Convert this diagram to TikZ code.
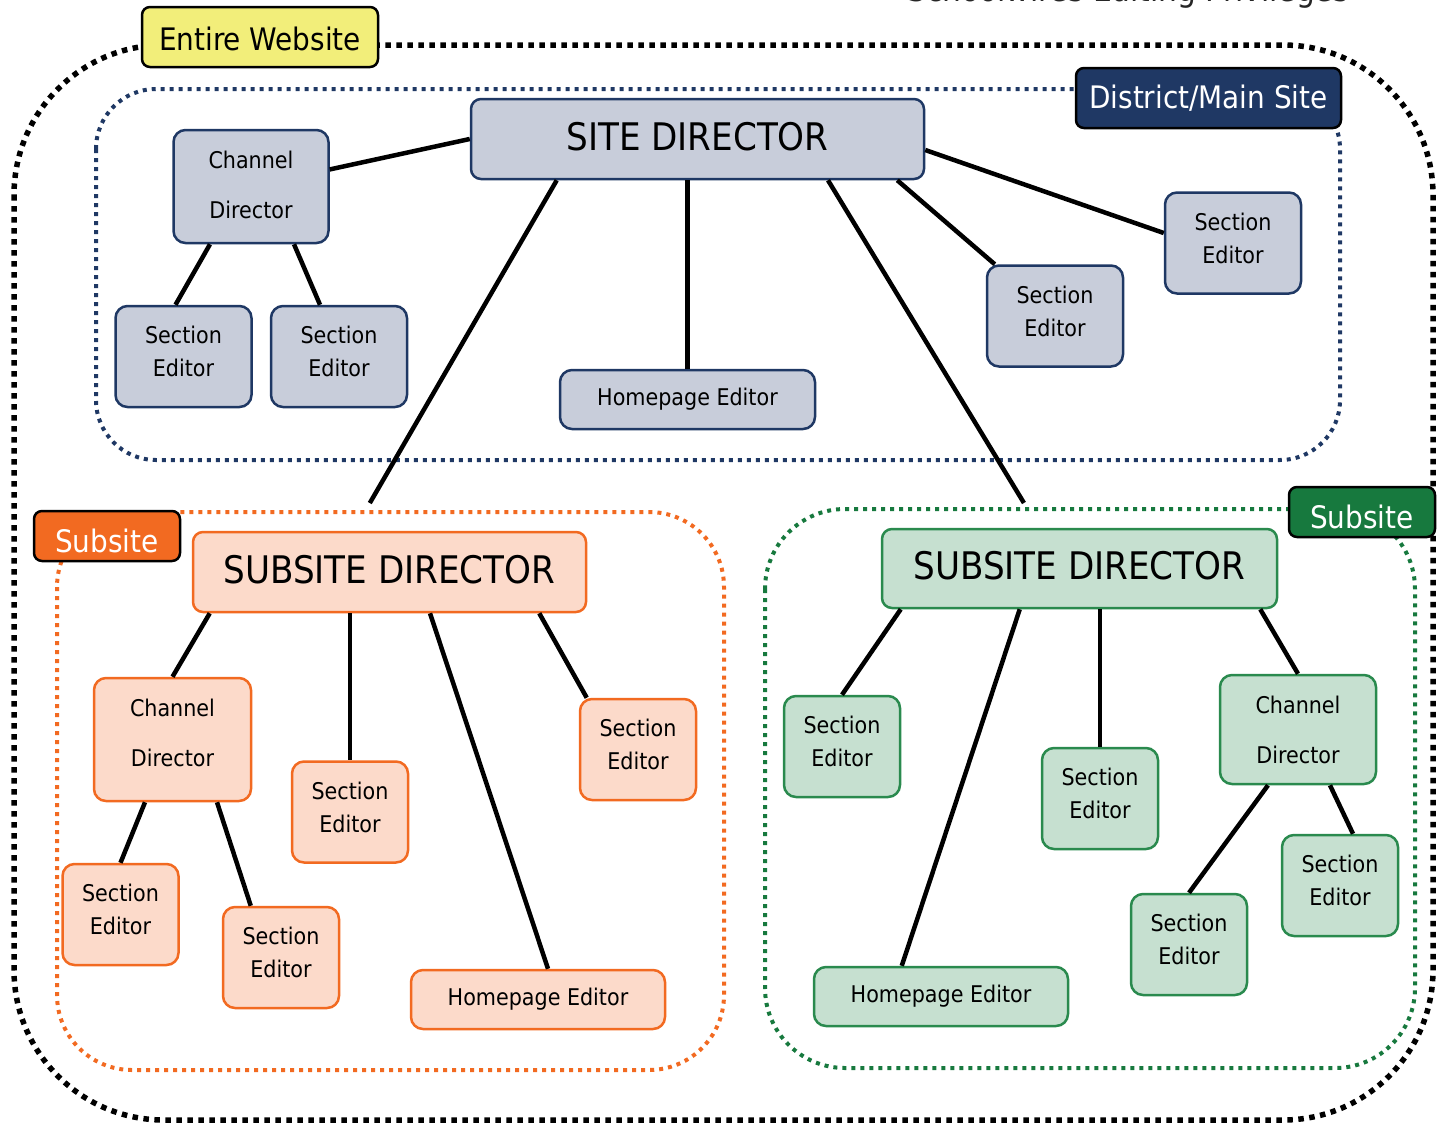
\documentclass[tikz,border=0pt]{standalone}
\usepackage{fontspec}
\setmainfont{DejaVu Sans Condensed}
\usetikzlibrary{shapes}
\definecolor{navy}{HTML}{1F3864}
\definecolor{bluefill}{HTML}{C8CDDA}
\definecolor{suborange}{HTML}{F26A21}
\definecolor{peach}{HTML}{FCDACA}
\definecolor{subgreen}{HTML}{17793E}
\definecolor{greenline}{HTML}{2A8A4E}
\definecolor{mint}{HTML}{C6E0D0}
\definecolor{lemon}{HTML}{F2EE7A}
\tikzset{
	treenode/.style = {align=center, inner sep=0pt, rounded corners=12pt,
		line width=2.5pt, font=\fontsize{23}{33}\selectfont},
	nd_b/.style = {treenode, draw=navy, fill=bluefill},% noeud du site principal
	nd_o/.style = {treenode, draw=suborange, fill=peach},% noeud du sous-site orange
	nd_g/.style = {treenode, draw=greenline, fill=mint},% noeud du sous-site vert
	sect_b/.style = {minimum width=136pt, minimum height=101pt, text depth=10pt},% editeur de section
	sect/.style = {minimum width=116pt, minimum height=101pt, text depth=10pt},
	homep/.style = {minimum width=254pt, minimum height=59pt},% editeur de la page d'accueil
	chdir/.style = {minimum width=156pt, text depth=4pt,
		font=\fontsize{23}{50}\selectfont},% directeur de chaine
	topdir/.style = {minimum height=80pt, rounded corners=10pt, text depth=6pt,
		font=\fontsize{38}{44}\selectfont},% directeur
	tag/.style = {inner sep=0pt, rounded corners=8pt, draw=black, line width=2.5pt,
		font=\fontsize{31}{36}\selectfont},% etiquette de zone
	zone/.style = {line width=4pt, dash pattern=on 4pt off 5pt},% zone pointillee
	link/.style = {line width=4.5pt}% trait
}

\begin{document}
\begin{tikzpicture}[x=1pt, y=-1pt]
	\useasboundingbox (0,0) rectangle (1443,1125);
	% titre coupe
	\node[anchor=base, font=\fontsize{33}{38}\selectfont, text=black!85] (title)
		at (1128,1) {Schoolwires Editing Privileges};
	% zones
	\draw[zone, line width=5.5pt, dash pattern=on 5.5pt off 5.5pt, rounded corners=150pt]
		(14,45) rectangle (1433,1120);
	\draw[zone, navy, rounded corners=60pt] (96,89) rectangle (1340,460);
	\draw[zone, suborange, rounded corners=75pt] (57,512) rectangle (724,1070);
	\draw[zone, subgreen, rounded corners=80pt] (765,509) rectangle (1415,1068);
	\node[tag, fill=lemon, minimum width=236pt, minimum height=60pt, text height=27pt] (whole)
		at (260,37) {Entire Website};
	\node[tag, fill=navy, text=white, minimum width=265pt, minimum height=60pt] (district)
		at (1208.5,98) {District/Main Site};
	\node[tag, fill=suborange, text=white, minimum width=146pt, minimum height=50pt,
		text height=33pt, text depth=0pt] (tago) at (107,536) {Subsite};
	\node[tag, fill=subgreen, text=white, minimum width=146pt, minimum height=50pt,
		text height=33pt, text depth=0pt] (tagg) at (1362,512) {Subsite};

	% site principal
	\node[nd_b, topdir, minimum width=453pt] (site) at (697.5,139) {SITE DIRECTOR};
	\node[nd_b, chdir, minimum width=155pt, minimum height=113pt] (chb) at (251,186.5) {Channel\\Director};
	\node[nd_b, sect_b] (seb1) at (183.5,356.5) {Section\\Editor};
	\node[nd_b, sect_b] (seb2) at (339,356.5) {Section\\Editor};
	\node[nd_b, homep, minimum width=255pt] (homeb) at (687.5,399.5) {Homepage Editor};
	\node[nd_b, sect_b] (seb3) at (1055,316) {Section\\Editor};
	\node[nd_b, sect_b] (seb4) at (1233,243) {Section\\Editor};

	% sous-site orange
	\node[nd_o, topdir, minimum width=393pt] (subo) at (389.5,572) {SUBSITE DIRECTOR};
	\node[nd_o, chdir, minimum width=157pt, minimum height=123pt, text depth=14pt] (cho)
		at (172.5,739.5) {Channel\\Director};
	\node[nd_o, sect] (seo1) at (120.5,914.5) {Section\\Editor};
	\node[nd_o, sect] (seo2) at (281,957.5) {Section\\Editor};
	\node[nd_o, sect] (seo3) at (350,812) {Section\\Editor};
	\node[nd_o, sect] (seo4) at (638,749.5) {Section\\Editor};
	\node[nd_o, homep] (homeo) at (538,999.5) {Homepage Editor};

	% sous-site vert
	\node[nd_g, topdir, minimum width=395pt, minimum height=79pt] (subg) at (1079.5,568.5) {SUBSITE DIRECTOR};
	\node[nd_g, sect] (seg1) at (842,746.5) {Section\\Editor};
	\node[nd_g, sect] (seg2) at (1100,798.5) {Section\\Editor};
	\node[nd_g, chdir, minimum height=109pt, text depth=0pt] (chg) at (1298,729.5) {Channel\\Director};
	\node[nd_g, sect] (seg3) at (1340,885.5) {Section\\Editor};
	\node[nd_g, sect] (seg4) at (1189,944.5) {Section\\Editor};
	\node[nd_g, homep] (homeg) at (941,996.5) {Homepage Editor};

	% traits
	\draw[link] (site.west) -- (chb);
	\draw[link] ([xshift=-41pt]chb.south) -- ([xshift=-8pt]seb1.north);
	\draw[link] ([xshift=43pt]chb.south) -- ([xshift=-19pt]seb2.north);
	\draw[link] (homeb.north |- site.south) -- (homeb.north);
	\draw[link] ([xshift=-28pt]site.south east) -- ([xshift=9pt]seb3.north west);
	\draw[link] ([yshift=-11pt]site.east) -- ([yshift=10pt]seb4.west);
	\draw[link, shorten >=32pt] ([xshift=87pt]site.south west) -- ([xshift=162pt]subo.north west);
	\draw[link, shorten >=29pt] ([xshift=130.5pt]site.south) -- ([xshift=-40.5pt]subg.north);

	\draw[link] ([xshift=18pt]subo.south west) -- (cho.north);
	\draw[link] (seo3.north |- subo.south) -- (seo3.north);
	\draw[link] ([xshift=40.5pt]subo.south) -- ([xshift=10pt]homeo.north);
	\draw[link] ([xshift=-48pt]subo.south east) -- ([xshift=8pt]seo4.north west);
	\draw[link] ([xshift=-27.5pt]cho.south) -- (seo1.north);
	\draw[link] ([xshift=44.5pt]cho.south) -- ([xshift=29pt]seo2.north west);

	\draw[link] ([xshift=20pt]subg.south west) -- (seg1.north);
	\draw[link] (seg2.north |- subg.south) -- (seg2.north);
	\draw[link] ([xshift=139pt]subg.south west) -- ([xshift=89pt]homeg.north west);
	\draw[link] ([xshift=-18pt]subg.south east) -- (chg.north);
	\draw[link] ([xshift=-30pt]chg.south) -- (seg4.north);
	\draw[link] ([xshift=32pt]chg.south) -- ([xshift=13pt]seg3.north);
\end{tikzpicture}
\end{document}
